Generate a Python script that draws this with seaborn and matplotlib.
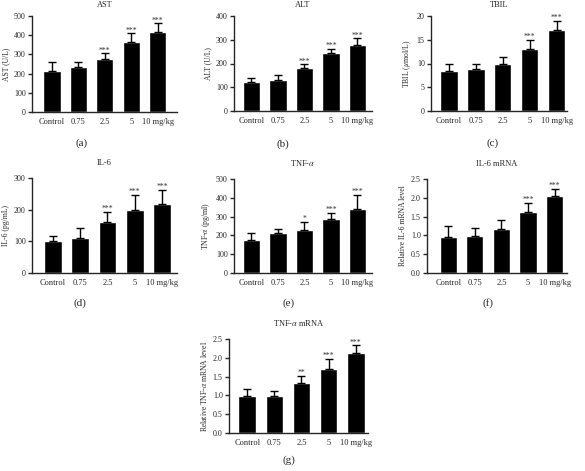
import numpy as np
import pandas as pd
import matplotlib
matplotlib.use("Agg")
import matplotlib.pyplot as plt
import matplotlib.transforms as mtransforms
import seaborn as sns

# ---------------- data ----------------
groups = ["Control", "0.75", "2.5", "5", "10 mg/kg"]

ast_mean = [214, 235, 275, 366, 416]
ast_sd = [44, 23, 30, 43, 46]
ast_sig = ["", "", "***", "***", "***"]

alt_mean = [122, 132, 179, 246, 277]
alt_sd = [17, 21, 17, 17, 29]
alt_sig = ["", "", "***", "***", "***"]

tbil_mean = [8.5, 8.8, 10.0, 13.1, 17.1]
tbil_sd = [1.3, 1.1, 1.4, 1.9, 1.9]
tbil_sig = ["", "", "", "***", "***"]

il6_mean = [100, 110, 160, 200, 219]
il6_sd = [18, 32, 33, 47, 44]
il6_sig = ["", "", "***", "***", "***"]

tnf_mean = [175, 212, 228, 288, 343]
tnf_sd = [37, 23, 44, 30, 72]
tnf_sig = ["", "", "*", "***", "***"]

il6m_mean = [0.96, 0.99, 1.17, 1.62, 2.06]
il6m_sd = [0.28, 0.21, 0.24, 0.24, 0.18]
il6m_sig = ["", "", "", "***", "***"]

tnfm_mean = [0.99, 0.99, 1.32, 1.70, 2.13]
tnfm_sd = [0.17, 0.14, 0.20, 0.27, 0.20]
tnfm_sig = ["", "", "**", "***", "***"]

titles = ["AST", "ALT", "TBIL", "IL-6", r"TNF-$\alpha$", "IL-6 mRNA", r"TNF-$\alpha$ mRNA"]
ylabels = ["AST (U/L)", "ALT (U/L)", r"TBIL ($\mu$mol/L)", "IL-6 (pg/mL)",
           r"TNF-$\alpha$ (pg/ml)", "Relative IL-6 mRNA level",
           r"Relative TNF-$\alpha$ mRNA level"]
yticks = [[0, 100, 200, 300, 400, 500], [0, 100, 200, 300, 400], [0, 5, 10, 15, 20],
          [0, 100, 200, 300], [0, 100, 200, 300, 400, 500],
          [0.0, 0.5, 1.0, 1.5, 2.0, 2.5], [0.0, 0.5, 1.0, 1.5, 2.0, 2.5]]
ytick_fmt = ["{:.0f}"] * 5 + ["{:.1f}"] * 2
panel_tags = ["(a)", "(b)", "(c)", "(d)", "(e)", "(f)", "(g)"]

means = [ast_mean, alt_mean, tbil_mean, il6_mean, tnf_mean, il6m_mean, tnfm_mean]
sds = [ast_sd, alt_sd, tbil_sd, il6_sd, tnf_sd, il6m_sd, tnfm_sd]
sigs = [ast_sig, alt_sig, tbil_sig, il6_sig, tnf_sig, il6m_sig, tnfm_sig]

# ---------------- layout (pixels) ----------------
W, H = 585, 471
# left, right, top, bottom of each axes in pixels
boxes = [(32, 177, 16, 112), (234, 372, 16, 111), (431, 567, 16, 111),
         (32, 177, 178, 273), (234, 372, 179, 273), (427, 567, 179, 273),
         (229, 368, 339, 433)]
xlims = [(-0.76, 4.73), (-0.66, 4.55), (-0.67, 4.39),
         (-0.77, 4.55), (-0.66, 4.55), (-0.80, 4.47),
         (-0.67, 4.45)]
title_pads = [6.5, 6.5, 6.5, 9, 9, 9, 9]
tag_pos = [(82, 143), (283, 144), (493, 143), (80, 303), (289, 303), (488, 303), (289, 460)]

sns.set_style("ticks")
plt.rcParams["font.family"] = ["Liberation Serif", "DejaVu Serif"]
plt.rcParams["mathtext.fontset"] = "stix"

fig = plt.figure(figsize=(W / 100, H / 100), dpi=100)

for k in range(7):
    l, r, t, b = boxes[k]
    ax = fig.add_axes([l / W, 1 - b / H, (r - l) / W, (b - t) / H])
    df = pd.DataFrame({"group": groups, "value": means[k]})
    sns.barplot(data=df, x="group", y="value", ax=ax, color="black",
                saturation=1, width=0.65, errorbar=None)
    x = np.arange(len(groups))
    ax.errorbar(x, means[k], yerr=[np.zeros(len(groups)), sds[k]], fmt="none",
                ecolor="black", elinewidth=1.0, capsize=3, capthick=1.0)
    for i, s in enumerate(sigs[k]):
        if s:
            ax.annotate(s, (x[i], means[k][i] + sds[k][i]), xytext=(0, 0.6),
                        textcoords="offset points", ha="center", va="baseline",
                        fontsize=5.5, color="#333333")
    ax.set_xlim(*xlims[k])
    ax.set_ylim(yticks[k][0], yticks[k][-1])
    ax.set_yticks(yticks[k])
    ax.set_yticklabels([ytick_fmt[k].format(v) for v in yticks[k]], fontsize=5.8)
    ax.set_xticks(x)
    ax.set_xticklabels(groups, fontsize=6)
    # shift the last tick label right like in the original
    lab = ax.get_xticklabels()[-1]
    lab.set_transform(lab.get_transform() +
                      mtransforms.ScaledTranslation(0.10, 0, fig.dpi_scale_trans))
    ax.tick_params(axis="x", length=0, pad=4.5)
    ax.tick_params(axis="y", length=3, width=1, pad=1.5)
    ax.set_xlabel("")
    ax.set_ylabel(ylabels[k], fontsize=5.5, labelpad=3)
    ax.set_title(titles[k], fontsize=6, pad=title_pads[k])
    sns.despine(ax=ax)
    for sp in ["left", "bottom"]:
        ax.spines[sp].set_linewidth(1.0)
    fig.text(tag_pos[k][0] / W, 1 - tag_pos[k][1] / H, panel_tags[k],
             ha="center", va="center", fontsize=8)

fig.savefig("out.png", dpi=100)
